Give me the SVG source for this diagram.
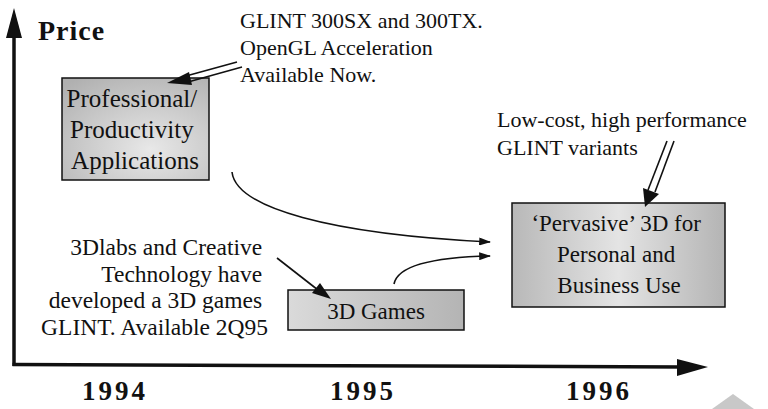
<svg xmlns="http://www.w3.org/2000/svg" width="768" height="409" viewBox="0 0 768 409">
<style>
  .t { font-family: "Liberation Serif", "Times New Roman", serif; fill: #111; }
  .ann { font-size: 22px; }
  .box { stroke: #111; stroke-width: 1.5; }
  .yr { font-family: "Liberation Serif", serif; font-weight: bold; font-size: 27px; letter-spacing: 3px; fill: #111; }
  .ln { fill: none; stroke: #111; stroke-width: 1.6; }
  .axis { stroke: #111; stroke-width: 3.5; fill: none; }
</style>
<defs>
  <radialGradient id="g1" cx="0.6" cy="0.7" r="0.85">
    <stop offset="0" stop-color="#e8e8e8"/>
    <stop offset="1" stop-color="#b0b0b0"/>
  </radialGradient>
  <linearGradient id="g2" x1="0" y1="0" x2="1" y2="0">
    <stop offset="0" stop-color="#b8b8b8"/>
    <stop offset="0.5" stop-color="#e4e4e4"/>
    <stop offset="1" stop-color="#b4b4b4"/>
  </linearGradient>
  <linearGradient id="g3" x1="0" y1="0" x2="1" y2="0">
    <stop offset="0" stop-color="#dadada"/>
    <stop offset="1" stop-color="#b4b4b4"/>
  </linearGradient>
  <marker id="ah" viewBox="0 0 10 10" refX="9" refY="5" markerWidth="12" markerHeight="8" markerUnits="userSpaceOnUse" orient="auto" preserveAspectRatio="none">
    <path d="M0,0 L10,5 L0,10 Z" fill="#111"/>
  </marker>
</defs>

<g id="axes">
  <line class="axis" x1="14" y1="30" x2="14" y2="366"/>
  <polygon points="14,8 6,38 22,38" fill="#111"/>
  <line class="axis" x1="12.5" y1="364.5" x2="682" y2="367"/>
  <polygon points="708,367 677,359 677,376" fill="#111"/>
  <text class="t" x="38" y="40" font-size="28" font-weight="bold" letter-spacing="1">Price</text>
  <text class="yr" x="82" y="400">1994</text>
  <text class="yr" x="330" y="400">1995</text>
  <text class="yr" x="566" y="400">1996</text>
</g>

<g id="professional">
  <rect class="box" x="62" y="78" width="147" height="102" fill="url(#g1)"/>
  <text class="t" font-size="25" text-anchor="middle">
    <tspan x="135" y="107">Professional/</tspan>
    <tspan x="135" y="138">Productivity</tspan>
    <tspan x="135" y="169">Applications</tspan>
  </text>
</g>

<g id="games">
  <rect class="box" x="288" y="290" width="176" height="40" fill="url(#g3)"/>
  <text class="t" font-size="23" x="376" y="319" text-anchor="middle">3D Games</text>
</g>

<g id="pervasive">
  <rect class="box" x="512" y="203" width="213" height="104" fill="url(#g2)"/>
  <text class="t" font-size="23" text-anchor="middle">
    <tspan x="619" y="231">‘Pervasive’ 3D for</tspan>
    <tspan x="619" y="262">Personal and</tspan>
    <tspan x="619" y="293">Business Use</tspan>
  </text>
</g>

<g id="note-glint">
  <text class="t ann">
    <tspan x="240" y="28">GLINT 300SX and 300TX.</tspan>
    <tspan x="240" y="55">OpenGL Acceleration</tspan>
    <tspan x="240" y="82">Available Now.</tspan>
  </text>
</g>

<g id="note-lowcost">
  <text class="t ann">
    <tspan x="497" y="127">Low-cost, high performance</tspan>
    <tspan x="497" y="155">GLINT variants</tspan>
  </text>
</g>

<g id="note-3dlabs">
  <text class="t" font-size="23.5" text-anchor="end">
    <tspan x="268" y="255">3Dlabs and Creative</tspan>
    <tspan x="268" y="282">Technology have</tspan>
    <tspan x="268" y="308">developed a 3D games</tspan>
    <tspan x="268" y="335">GLINT. Available 2Q95</tspan>
  </text>
</g>

<g id="connectors">
  <line class="ln" x1="237" y1="62" x2="186" y2="76"/>
  <line class="ln" x1="242" y1="67" x2="188" y2="82"/>
  <polygon points="167,83 189,72 192,85" fill="#111"/>

  <line class="ln" x1="667" y1="141" x2="648" y2="190"/>
  <line class="ln" x1="674" y1="141" x2="655" y2="192"/>
  <polygon points="645,207 643,188 659,194" fill="#111"/>

  <line class="ln" x1="277" y1="258" x2="318" y2="290" stroke-width="2.2"/>
  <polygon points="331,299 312,293 320,283" fill="#111"/>

  <path class="ln" d="M232,172 C236,208 330,234 490,242" marker-end="url(#ah)"/>
  <path class="ln" d="M394,284 C398,264 440,257 490,256" marker-end="url(#ah)"/>
</g>

<polygon points="733,394 712,409 754,409" fill="#c8c8c8"/>
</svg>
